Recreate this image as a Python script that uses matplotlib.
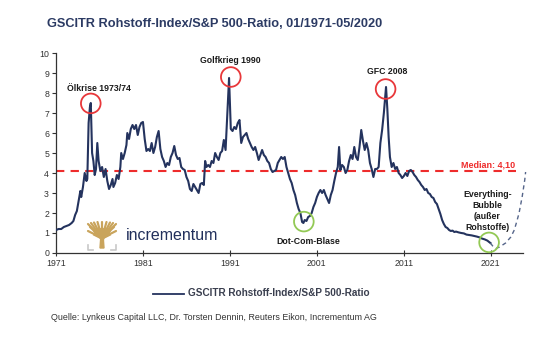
import matplotlib.pyplot as plt
from matplotlib.lines import Line2D
from matplotlib.patches import Polygon

plt.rcParams['font.family'] = ['Liberation Sans', 'DejaVu Sans']

# GSCI TR / S&P 500 ratio (fractional year, ratio)
years = [1971.0, 1971.3, 1971.6, 1971.9, 1972.2, 1972.5, 1972.8, 1973.0, 1973.2, 1973.4,
         1973.6, 1973.8, 1973.9, 1974.1, 1974.3, 1974.5, 1974.6, 1974.75, 1974.9, 1975.0,
         1975.15, 1975.3, 1975.45, 1975.6, 1975.75, 1975.9, 1976.1, 1976.3, 1976.5, 1976.7,
         1976.9, 1977.1, 1977.3, 1977.5, 1977.6, 1977.8, 1978.0, 1978.2, 1978.4, 1978.5,
         1978.7, 1978.9, 1979.1, 1979.2, 1979.4, 1979.6, 1979.8, 1980.0, 1980.2, 1980.4,
         1980.6, 1980.8, 1981.0, 1981.2, 1981.4, 1981.6, 1981.8, 1982.0, 1982.2, 1982.4,
         1982.6, 1982.8, 1983.0, 1983.2, 1983.4, 1983.6, 1983.8, 1984.0, 1984.2, 1984.4,
         1984.6, 1984.8, 1985.0, 1985.2, 1985.4, 1985.6, 1985.8, 1986.0, 1986.2, 1986.4,
         1986.6, 1986.8, 1987.0, 1987.2, 1987.4, 1987.6, 1987.8, 1988.0, 1988.15, 1988.3,
         1988.5, 1988.7, 1988.9, 1989.1, 1989.3, 1989.5, 1989.7, 1989.9, 1990.1, 1990.3,
         1990.5, 1990.65, 1990.9, 1991.0, 1991.1, 1991.3, 1991.5, 1991.7, 1991.9, 1992.1,
         1992.3, 1992.5, 1992.7, 1992.9, 1993.1, 1993.3, 1993.5, 1993.7, 1993.9, 1994.1,
         1994.3, 1994.5, 1994.7, 1994.9, 1995.1, 1995.3, 1995.5, 1995.7, 1995.9, 1996.1,
         1996.3, 1996.5, 1996.7, 1996.9, 1997.1, 1997.3, 1997.5, 1997.7, 1997.9, 1998.1,
         1998.3, 1998.5, 1998.7, 1998.9, 1999.1, 1999.3, 1999.45, 1999.6, 1999.8, 2000.0,
         2000.2, 2000.4, 2000.6, 2000.8, 2001.0, 2001.2, 2001.4, 2001.6, 2001.8, 2002.0,
         2002.2, 2002.4, 2002.6, 2002.8, 2003.0, 2003.2, 2003.4, 2003.55, 2003.7, 2003.9,
         2004.1, 2004.3, 2004.5, 2004.7, 2004.9, 2005.1, 2005.3, 2005.5, 2005.7, 2005.9,
         2006.1, 2006.3, 2006.5, 2006.7, 2006.9, 2007.1, 2007.3, 2007.5, 2007.7, 2007.9,
         2008.1, 2008.3, 2008.5, 2008.7, 2008.95, 2009.1, 2009.25, 2009.4, 2009.6, 2009.8,
         2010.0, 2010.2, 2010.4, 2010.6, 2010.8, 2011.0, 2011.2, 2011.4, 2011.6, 2011.8,
         2012.0, 2012.2, 2012.4, 2012.6, 2012.8, 2013.0, 2013.2, 2013.4, 2013.6, 2013.8,
         2014.0, 2014.2, 2014.4, 2014.6, 2014.8, 2015.0, 2015.2, 2015.4, 2015.6, 2015.8,
         2016.0, 2016.2, 2016.4, 2016.6, 2016.8, 2017.0, 2017.3, 2017.6, 2017.9, 2018.2,
         2018.5, 2018.8, 2019.1, 2019.4, 2019.7, 2020.0, 2020.3, 2020.6, 2020.8, 2020.95]
ratio = [1.15, 1.2, 1.2, 1.3, 1.35, 1.4, 1.5, 1.6, 1.9, 2.1,
         2.6, 3.1, 2.8, 3.3, 4.0, 3.6, 3.7, 6.5, 7.3, 7.5,
         5.0, 4.6, 3.9, 4.2, 5.5, 4.6, 4.1, 4.3, 3.8, 4.2,
         3.6, 3.2, 3.4, 3.7, 3.3, 3.5, 3.9, 3.7, 4.3, 5.0,
         4.7, 5.0, 5.4, 6.0, 5.7, 6.2, 6.4, 6.2, 6.4, 5.9,
         6.3, 6.5, 6.55, 5.7, 5.1, 5.2, 5.1, 5.5, 5.0, 5.3,
         5.8, 6.1, 5.2, 4.8, 4.6, 4.3, 4.5, 4.4, 4.8, 5.0,
         5.35, 4.9, 4.7, 4.75, 4.3, 4.2, 4.15, 3.8, 3.6, 3.2,
         3.1, 3.45, 3.3, 3.15, 3.0, 3.45, 3.5, 3.4, 4.6, 4.3,
         4.4, 4.3, 4.6, 4.5, 5.0, 4.8, 4.65, 5.0, 5.1, 5.65,
         5.15, 6.5, 8.75, 7.5, 6.2, 6.1, 6.3, 6.2, 6.5, 6.65,
         5.5, 5.8, 5.9, 6.0, 5.7, 5.5, 5.3, 5.15, 5.3, 5.0,
         4.65, 4.9, 5.15, 4.9, 4.8, 4.6, 4.5, 4.2, 4.05, 4.1,
         4.15, 4.5, 4.65, 4.8, 4.7, 4.8, 4.3, 4.0, 3.7, 3.5,
         3.15, 2.9, 2.5, 2.2, 2.0, 1.55, 1.5, 1.65, 1.6, 1.8,
         1.85, 2.0, 2.3, 2.5, 2.8, 3.0, 3.15, 3.0, 3.15, 2.9,
         2.7, 2.5, 2.9, 3.15, 3.6, 4.0, 4.3, 5.3, 4.15, 4.4,
         4.3, 4.0, 4.15, 4.6, 4.9, 4.7, 5.3, 4.8, 4.65, 5.3,
         6.15, 5.6, 5.15, 5.5, 5.15, 4.5, 4.2, 3.8, 4.2, 4.2,
         4.3, 5.5, 6.15, 7.0, 8.3, 7.2, 5.8, 4.8, 4.3, 4.5,
         4.2, 4.3, 4.0, 3.9, 3.75, 3.85, 4.0, 3.85, 4.1, 4.15,
         4.05, 3.9, 3.8, 3.65, 3.55, 3.4, 3.3, 3.15, 3.2, 3.0,
         2.95, 2.8, 2.75, 2.55, 2.45, 2.2, 1.95, 1.65, 1.45, 1.3,
         1.25, 1.15, 1.1, 1.12, 1.05, 1.07, 1.03, 1.0, 0.98, 0.92,
         0.9, 0.88, 0.85, 0.82, 0.78, 0.72, 0.68, 0.62, 0.55, 0.5]

# sketched path after the last data point
proj_years = [2020.95, 2021.3, 2021.6, 2022.0, 2022.7, 2023.3, 2023.7, 2024.0, 2024.25, 2024.6, 2024.9, 2025.0]
proj_ratio = [0.5, 0.3, 0.23, 0.3, 0.5, 0.8, 1.15, 1.6, 2.0, 2.8, 3.65, 4.05]

median = 4.10

# highlighted episodes: label, circle position, circle colour
events = ["Ölkrise 1973/74", "Golfkrieg 1990", "GFC 2008", "Dot-Com-Blase",
          "Everything-\nBubble\n(außer\nRohstoffe)"]
event_x = [1975.0, 1991.1, 2008.9, 1999.5, 2020.8]
event_y = [7.48, 8.8, 8.2, 1.57, 0.53]
label_x = [1975.9, 1991.1, 2009.05, 2000.0, 2020.6]
label_y = [8.25, 9.65, 9.07, 0.6, 2.1]
event_col = ["#e8373a", "#e8373a", "#e8373a", "#93c955", "#93c955"]

xticks = [1971, 1981, 1991, 2001, 2011, 2021]

navy = "#24335e"
red = "#ee2c2c"

fig = plt.figure(figsize=(5.42, 3.37), dpi=100)
ax = fig.add_axes([56 / 542, 1 - 253 / 337, (523 - 56) / 542, 200 / 337])

ax.plot(years, ratio, color=navy, lw=1.5, zorder=3)
ax.plot(proj_years, proj_ratio, color="#55658a", lw=1.0, ls=(0, (3, 2.5)), clip_on=False, zorder=3)
ax.plot([1971, 2023.9], [median, median], color=red, lw=1.5, ls=(0, (4, 3)), zorder=2)
ax.text(2023.8, 4.38, "Median: 4,10", color=red, fontsize=6.5, fontweight="bold",
        ha="right", va="center")

ax.scatter(event_x, event_y, s=200, facecolors="none", edgecolors=event_col,
           linewidths=1.3, zorder=4, clip_on=False)
for lab, lx, ly in zip(events, label_x, label_y):
    ax.text(lx, ly, lab, fontsize=6.3, fontweight="bold", ha="center", va="center",
            color="#1a1a1a", linespacing=1.25)

ax.set_xlim(1971, 2024.7)
ax.set_ylim(0, 10)
ax.set_yticks(range(0, 11))
ax.set_xticks(xticks)
ax.tick_params(axis="y", direction="out", length=3, width=0.8, labelsize=6.3, pad=2, colors="#333333")
ax.tick_params(axis="x", direction="inout", length=5, width=0.8, labelsize=6.3, pad=2, colors="#333333")
for side in ["top", "right"]:
    ax.spines[side].set_visible(False)
for side in ["left", "bottom"]:
    ax.spines[side].set_linewidth(0.9)
    ax.spines[side].set_color("#333333")

# title, legend and source line
fig.text(47 / 542, 1 - 24 / 337, "GSCITR Rohstoff-Index/S&P 500-Ratio, 01/1971-05/2020",
         fontsize=9.2, fontweight="bold", color="#2b3a63", ha="left", va="center")
fig.add_artist(Line2D([153 / 542, 184 / 542], [1 - 293.5 / 337] * 2, color=navy, lw=1.3))
fig.text(188 / 542, 1 - 293.5 / 337, "GSCITR Rohstoff-Index/S&P 500-Ratio",
         fontsize=7.2, fontweight="bold", color="#3a3f4f", ha="left", va="center")
fig.text(51 / 542, 1 - 317 / 337,
         "Quelle: Lynkeus Capital LLC, Dr. Torsten Dennin, Reuters Eikon, Incrementum AG",
         fontsize=6.4, color="#333333", ha="left", va="center")

# incrementum logo: stylised tree plus wordmark
gold = "#c9a45c"
logo = fig.add_axes([86 / 542, 1 - 251 / 337, 32 / 542, 30 / 337])
logo.set_xlim(0, 32)
logo.set_ylim(0, 30)
logo.axis("off")
logo.add_patch(Polygon([[14, 3], [18, 3], [17.2, 14], [14.8, 14]], closed=True, color=gold))
for x_end, y_end in [(2, 27), (5, 28), (8, 28.5), (11.5, 29), (16, 29), (20.5, 29),
                     (24, 28.5), (27, 28), (30, 27), (2, 20), (30, 20), (4, 24), (28, 24)]:
    logo.plot([16, x_end], [13, y_end], color=gold, lw=1.6, solid_capstyle="round")
    logo.plot([16, (16 + x_end) / 2], [13, (13 + y_end) / 2], color=gold, lw=2.4)
for xs in ([2, 2, 7], [30, 30, 25]):
    logo.plot(xs, [6, 1, 1], color="#c8c8c8", lw=1.2)
fig.text(126 / 542, 1 - 236 / 337, "incrementum", fontsize=11.5, color="#22305c",
         ha="left", va="center")

fig.savefig("out.png", dpi=100)
